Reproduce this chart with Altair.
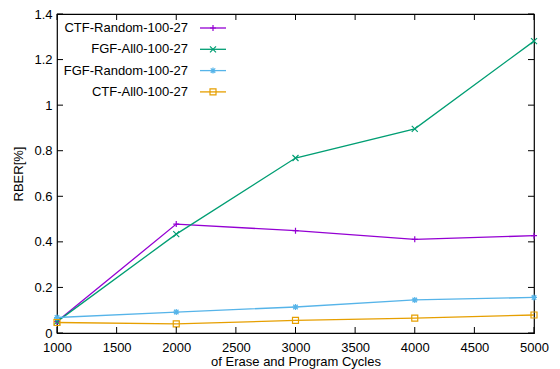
import altair as alt
import pandas as pd

# ---- data ----
cycles = [1000, 2000, 3000, 4000, 5000]
series_names = ["CTF-Random-100-27", "FGF-All0-100-27", "FGF-Random-100-27", "CTF-All0-100-27"]
ctf_random = [0.050, 0.478, 0.449, 0.411, 0.427]
fgf_all0 = [0.050, 0.434, 0.768, 0.896, 1.281]
fgf_random = [0.068, 0.092, 0.114, 0.145, 0.156]
ctf_all0 = [0.046, 0.040, 0.055, 0.065, 0.079]
x_ticks = [1000, 1500, 2000, 2500, 3000, 3500, 4000, 4500, 5000]
y_ticks = [0, 0.2, 0.4, 0.6, 0.8, 1.0, 1.2, 1.4]

# ---- styles ----
colors = ["#9400d3", "#009e73", "#56b4e9", "#e69f00"]
shapes = [
    "M-1,0L1,0M0,-1L0,1",
    "M-1,-1L1,1M-1,1L1,-1",
    "M-1,0L1,0M0,-1L0,1M-0.75,-0.75L0.75,0.75M-0.75,0.75L0.75,-0.75",
    "square",
]
FONT = "Liberation Sans"
W, H = 477, 319

rows = []
for name, vals in zip(series_names, [ctf_random, fgf_all0, fgf_random, ctf_all0]):
    for c, v in zip(cycles, vals):
        rows.append({"series": name, "cycles": c, "rber": v})
df = pd.DataFrame(rows)

leg = pd.DataFrame({"series": series_names, "row": list(range(len(series_names)))})
xt = pd.DataFrame({"v": x_ticks})
yt = pd.DataFrame({"v": y_ticks})

xscale = alt.Scale(domain=[1000, 5000], nice=False, zero=False)
yscale = alt.Scale(domain=[0, 1.4], nice=False)
cscale = alt.Scale(domain=series_names, range=colors)
sscale = alt.Scale(domain=series_names, range=shapes)

X = alt.X("cycles:Q", scale=xscale,
          axis=alt.Axis(values=x_ticks, format="d", ticks=False, domain=False, grid=False,
                        labelPadding=8, labelFlush=False, labelOverlap=False, labelBound=False,
                        title="of Erase and Program Cycles",
                        titleY=32, titleBaseline="alphabetic"))
Y = alt.Y("rber:Q", scale=yscale,
          axis=alt.Axis(values=y_ticks, format="~g", ticks=False, domain=False, grid=False,
                        labelPadding=5, labelFlush=False, labelOverlap=False,
                        title="RBER[%]", titlePadding=8))

lines = alt.Chart(df).mark_line(strokeWidth=1.3).encode(
    x=X, y=Y,
    color=alt.Color("series:N", scale=cscale, legend=None),
    order=alt.Order("cycles:Q"),
)
points = alt.Chart(df).mark_point(filled=False, size=36, strokeWidth=1.2, opacity=1).encode(
    x=alt.X("cycles:Q", scale=xscale), y=alt.Y("rber:Q", scale=yscale),
    color=alt.Color("series:N", scale=cscale, legend=None),
    shape=alt.Shape("series:N", scale=sscale, legend=None),
)

# ---- inward ticks on all four sides ----
tb = alt.Chart(xt).mark_rule(color="black", strokeWidth=1).encode(
    x=alt.X("v:Q", scale=xscale), y=alt.value(H), y2=alt.value(H - 6))
tt = alt.Chart(xt).mark_rule(color="black", strokeWidth=1).encode(
    x=alt.X("v:Q", scale=xscale), y=alt.value(0), y2=alt.value(6))
tl = alt.Chart(yt).mark_rule(color="black", strokeWidth=1).encode(
    y=alt.Y("v:Q", scale=yscale), x=alt.value(0), x2=alt.value(6))
tr = alt.Chart(yt).mark_rule(color="black", strokeWidth=1).encode(
    y=alt.Y("v:Q", scale=yscale), x=alt.value(W), x2=alt.value(W - 6))

# ---- gnuplot-style key (label, then sample) ----
legbase = alt.Chart(leg).transform_calculate(ly="14 + 21.3 * datum.row")
leg_text = legbase.mark_text(align="right", baseline="middle", fontSize=13, font=FONT, color="black").encode(
    x=alt.value(131), y=alt.Y("ly:Q", scale=None), text="series:N")
leg_line = legbase.mark_rule(strokeWidth=1.3).encode(
    x=alt.value(143), x2=alt.value(169), y=alt.Y("ly:Q", scale=None),
    color=alt.Color("series:N", scale=cscale, legend=None))
leg_pt = legbase.mark_point(filled=False, size=36, strokeWidth=1.2, opacity=1).encode(
    x=alt.value(156), y=alt.Y("ly:Q", scale=None),
    color=alt.Color("series:N", scale=cscale, legend=None),
    shape=alt.Shape("series:N", scale=sscale, legend=None))

chart = alt.layer(lines, points, tb, tt, tl, tr, leg_line, leg_pt, leg_text).properties(
    width=W, height=H,
    autosize=alt.AutoSizeParams(type="none"),
    padding={"left": 57, "top": 14, "right": 26, "bottom": 36},
    background="white",
).configure_view(
    stroke="black", strokeWidth=1.2
).configure_axis(
    labelFont=FONT, titleFont=FONT, labelFontSize=13, titleFontSize=13,
    labelColor="black", titleColor="black", titleFontWeight="normal",
)

chart.save("out.html", embed_options={"renderer": "svg", "actions": False})
